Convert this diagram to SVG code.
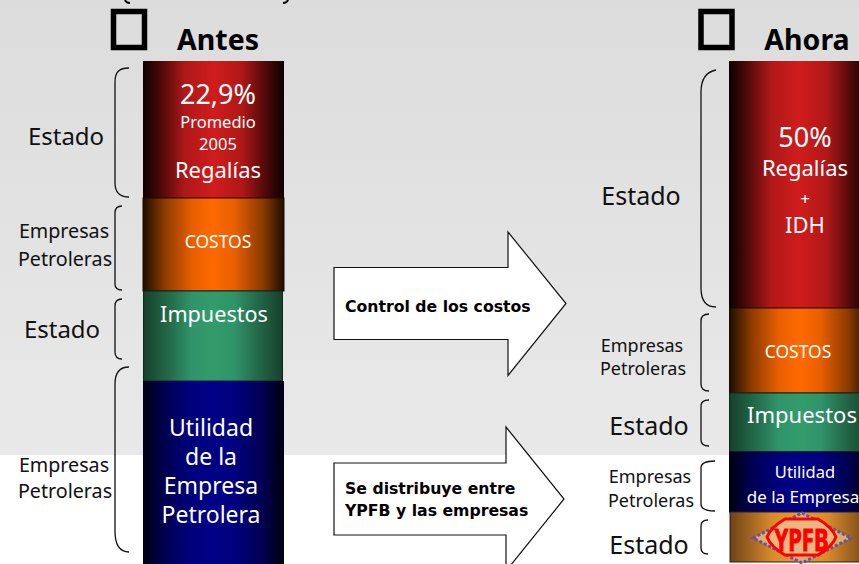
<svg xmlns="http://www.w3.org/2000/svg" width="859" height="564" viewBox="0 0 859 564">
<style>
text{font-family:"Noto Sans","DejaVu Sans",sans-serif;text-anchor:middle}
.d{fill:#111}.w{fill:#fff}
.b{fill:none;stroke:#111;stroke-width:1.3}
.ar{fill:#fff;stroke:#111;stroke-width:1.2}
.bk{fill:none;stroke:#000;stroke-width:5.500}
.h{font-weight:700;font-size:28.500px;fill:#000;font-family:"Noto Sans",sans-serif}
.ab{font-weight:700;font-size:15.700px;fill:#000;text-anchor:start;font-family:"DejaVu Sans",sans-serif}
</style>
<defs>
<linearGradient id="bg" x1="0" y1="0" x2="0" y2="1"><stop offset="0" stop-color="#dcdcdc"/><stop offset="1" stop-color="#e9e9e9"/></linearGradient>
<linearGradient id="red"><stop offset="0" stop-color="#0c0000"/><stop offset=".12" stop-color="#4a0808"/><stop offset=".3" stop-color="#b01818"/><stop offset=".5" stop-color="#d01c1c"/><stop offset=".7" stop-color="#b01818"/><stop offset=".88" stop-color="#4a0808"/><stop offset="1" stop-color="#0c0000"/></linearGradient>
<linearGradient id="org"><stop offset="0" stop-color="#1e0d00"/><stop offset=".15" stop-color="#8a3a00"/><stop offset=".35" stop-color="#e85f00"/><stop offset=".5" stop-color="#ff6a00"/><stop offset=".65" stop-color="#e85f00"/><stop offset=".85" stop-color="#8a3a00"/><stop offset="1" stop-color="#1e0d00"/></linearGradient>
<linearGradient id="grn"><stop offset="0" stop-color="#17402c"/><stop offset=".2" stop-color="#246e4c"/><stop offset=".35" stop-color="#30946a"/><stop offset=".5" stop-color="#339b6b"/><stop offset=".65" stop-color="#30946a"/><stop offset=".8" stop-color="#246e4c"/><stop offset="1" stop-color="#17402c"/></linearGradient>
<linearGradient id="blu"><stop offset="0" stop-color="#000010"/><stop offset=".15" stop-color="#000050"/><stop offset=".35" stop-color="#00007e"/><stop offset=".5" stop-color="#000087"/><stop offset=".65" stop-color="#00007e"/><stop offset=".85" stop-color="#000050"/><stop offset="1" stop-color="#000010"/></linearGradient>
<linearGradient id="gld"><stop offset="0" stop-color="#6e4214"/><stop offset=".3" stop-color="#d88a2c"/><stop offset=".5" stop-color="#f09a30"/><stop offset=".7" stop-color="#d88a2c"/><stop offset="1" stop-color="#6e4214"/></linearGradient>
</defs>
<rect width="859" height="564" fill="#fff"/>
<rect width="859" height="455" fill="url(#bg)"/>
<g id="title-fragments"><path fill="none" stroke="#000" stroke-width="2" d="M125 0q1 3 5 3M288 0q-1 3-5 3"/></g>
<g id="antes-head"><rect class="bk" x="113.500" y="11.500" width="31" height="36"/><text class="h" x="218" y="50">Antes</text></g>
<g id="ahora-head"><rect class="bk" x="701" y="11.500" width="31" height="36"/><text class="h" x="807" y="50">Ahora</text></g>
<g id="connectors">
<path class="b" d="M129 68C119 68 115 72 115 82V183C115 192 119 197 129 197"/>
<path class="b" d="M122 206C117 206 115 208 115 213V284C115 288 117 290 122 290"/>
<path class="b" d="M122 299C117 299 115 301 115 306V352C115 356 117 359 122 359"/>
<path class="b" d="M129 367C119 367 115 374 115 384V531C115 543 119 552 129 552"/>
<path class="b" d="M716 70C706 72 701 80 701 92V288C701 300 706 307 716 307"/>
<path class="b" d="M709 314C704 314 701 316 701 321V384C701 389 704 391 709 391"/>
<path class="b" d="M709 400C704 400 701 402 701 406V440C701 444 704 446 709 446"/>
<path class="b" d="M715 461C705 461 701 463 701 468V504C701 509 705 511 715 511"/>
<path class="b" d="M708 520C703 520 701 522 701 526V548C701 552 703 554 708 554"/>
</g>
<g id="col-antes">
<rect x="143" y="61" width="141" height="137" fill="url(#red)"/>
<rect x="143" y="198" width="141" height="93" fill="url(#org)" stroke="#1a0a00"/>
<rect x="143.500" y="291" width="139" height="90" fill="url(#grn)" stroke="#0c2a1c"/>
<rect x="143" y="381" width="141" height="183" fill="url(#blu)"/>
<text class="w" font-size="27" x="218" y="104">22,9%</text>
<text class="w" font-size="16.500" x="218" y="128">Promedio</text>
<text class="w" font-size="16.500" x="218" y="150">2005</text>
<text class="w" font-size="22" x="218" y="178">Regalías</text>
<text class="w" font-size="17.500" x="218" y="248">COSTOS</text>
<text class="w" font-size="21.600" x="214" y="322">Impuestos</text>
<text class="w" font-size="23" x="211" y="436">Utilidad</text>
<text class="w" font-size="23" x="211" y="465">de la</text>
<text class="w" font-size="23" x="211" y="494">Empresa</text>
<text class="w" font-size="23" x="211" y="523">Petrolera</text>
</g>
<g id="col-ahora">
<rect x="729" y="61" width="140" height="247" fill="url(#red)"/>
<rect x="729.500" y="308" width="140" height="85" fill="url(#org)" stroke="#1a0a00"/>
<rect x="729.500" y="393" width="140" height="59" fill="url(#grn)" stroke="#0c2a1c"/>
<rect x="729.500" y="452" width="140" height="60" fill="url(#blu)" stroke="#000020"/>
<rect x="730" y="512" width="140" height="50" fill="url(#gld)" stroke="#222"/>
<text class="w" font-size="27" x="805" y="147">50%</text>
<text class="w" font-size="22" x="805" y="176">Regalías</text>
<text class="w" font-size="17" x="805" y="205">+</text>
<text class="w" font-size="22" x="805" y="233">IDH</text>
<text class="w" font-size="17.500" x="798" y="358">COSTOS</text>
<text class="w" font-size="22" x="802" y="423">Impuestos</text>
<text class="w" font-size="16.500" x="805" y="478">Utilidad</text>
<text class="w" font-size="17" x="803" y="503">de la Empresa</text>
<g id="ypfb-logo"><path d="M753 538L802 513L851 538L802 563Z" fill="#d8b070" stroke="#6a50a0" stroke-width="3" stroke-dasharray="3 2"/><path d="M767 537Q771 527 785 519H818Q832 527 836 537Q832 547 818 555H785Q771 547 767 537Z" fill="#e8b880" stroke="#f00" stroke-width="3"/><text x="801.500" y="551" font-size="31" font-weight="700" fill="#f00" stroke="#f00" stroke-width="1" font-family="Liberation Serif,serif" textLength="54" lengthAdjust="spacingAndGlyphs">YPFB</text></g>
</g>
<g id="labels-left">
<text class="d" font-size="24" x="66" y="145">Estado</text>
<text class="d" font-size="19.700" x="64" y="238">Empresas</text>
<text class="d" font-size="19.700" x="65" y="266">Petroleras</text>
<text class="d" font-size="24" x="62" y="338">Estado</text>
<text class="d" font-size="19.700" x="64" y="472">Empresas</text>
<text class="d" font-size="19.700" x="65" y="498">Petroleras</text>
</g>
<g id="labels-right">
<text class="d" font-size="25" x="641" y="205">Estado</text>
<text class="d" font-size="18" x="642" y="352">Empresas</text>
<text class="d" font-size="18" x="643" y="375">Petroleras</text>
<text class="d" font-size="25" x="649" y="435">Estado</text>
<text class="d" font-size="18" x="650" y="483">Empresas</text>
<text class="d" font-size="18" x="651" y="507">Petroleras</text>
<text class="d" font-size="25" x="649" y="554">Estado</text>
</g>
<g id="arrow-costos"><path class="ar" d="M334 267.500H508V232L566 303.500L508 375.500V339.500H334Z"/><text class="ab" x="345" y="312">Control de los costos</text></g>
<g id="arrow-reparto"><path class="ar" d="M334 463H506V427L564 499L506 571V535H334Z"/><text class="ab" x="345" y="494">Se distribuye entre</text><text class="ab" x="345" y="516">YPFB y las empresas</text></g>
</svg>
